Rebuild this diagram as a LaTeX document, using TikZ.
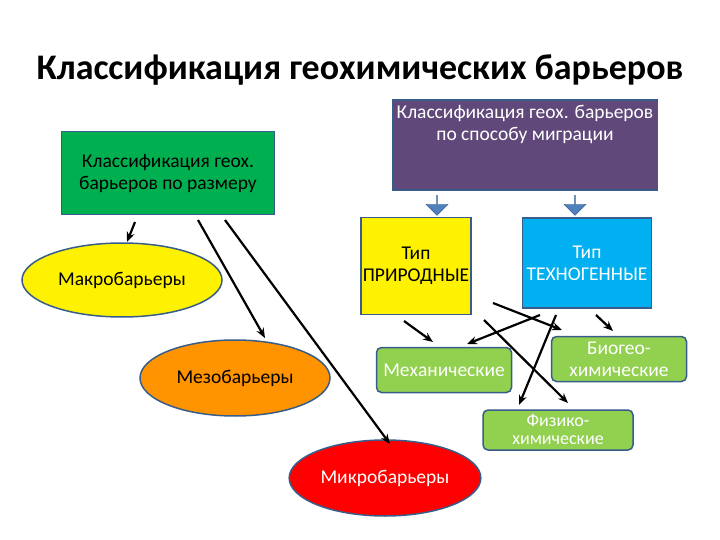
\documentclass[tikz,border=0pt]{standalone}
\usepackage{fontspec}
\setmainfont{Carlito}
\usetikzlibrary{shapes.geometric,shapes.arrows,arrows.meta}
\definecolor{grn}{RGB}{0,176,80}
\definecolor{purp}{RGB}{96,73,122}
\definecolor{skyb}{RGB}{0,176,240}
\definecolor{lgrn}{RGB}{146,208,80}
\definecolor{edge}{RGB}{56,93,138}
\definecolor{arrblue}{RGB}{79,129,189}
\begin{document}
\begin{tikzpicture}[x=1pt,y=-1pt,
  box/.style={draw=edge,line width=1.5pt,align=center,font=\fontsize{19.5}{22}\selectfont,inner sep=2pt},
  rbox/.style={box,rounded corners=5pt,fill=lgrn,text=white},
  ell/.style={ellipse,draw=edge,line width=1.5pt,font=\fontsize{19.5}{22}\selectfont},
  arr/.style={-{Stealth[length=10pt,width=8pt]},line width=2.2pt},
  big/.style={single arrow,fill=arrblue,draw=edge,shape border rotate=270,minimum height=20pt,minimum width=22pt,single arrow head extend=4pt,inner sep=0pt}]
\useasboundingbox (0,0) rectangle (720,540);
\node[font=\bfseries\fontsize{36}{40}\selectfont] (title) at (360,70) {Классификация геохимических барьеров};
\node[box,fill=grn,minimum width=213pt,minimum height=83pt] (size) at (168,173) {Классификация геох.\\барьеров по размеру};
\node[box,fill=purp,text=white,minimum width=265pt,minimum height=90pt] (mig) at (525,145) {Классификация геох. барьеров\\по способу миграции\\[22pt]};
\node[box,fill=yellow,minimum width=108pt,minimum height=97pt] (nat) at (416,266) {Тип\\ПРИРОДНЫЕ};
\node[box,fill=skyb,text=white,minimum width=129pt,minimum height=90pt] (tech) at (587,263) {Тип\\ТЕХНОГЕННЫЕ};
\node[big] (a1) at (437,205) {};
\node[big] (a2) at (575,205) {};
\node[ell,fill=yellow,minimum width=200pt,minimum height=74pt] (macro) at (122,280) {Макробарьеры};
\node[ell,fill=orange!85!yellow,minimum width=190pt,minimum height=76pt] (mezo) at (235,378) {Мезобарьеры};
\node[ell,fill=red,text=white,minimum width=184pt,minimum height=76pt] (micro) at (385,478) {Микробарьеры};
\node[rbox,minimum width=135pt,minimum height=45pt] (mech) at (444,370) {Механические};
\node[rbox,minimum width=135pt,minimum height=45pt] (bio) at (619,359) {Биогео-\\химические};
\node[rbox,minimum width=150pt,minimum height=40pt,font=\fontsize{18}{18}\selectfont] (phys) at (558,430) {Физико-\\химические};
\coordinate (s1) at (135,222); \coordinate (e1) at (127,242);
\coordinate (s2) at (198,220); \coordinate (e2) at (265,338);
\coordinate (s3) at (225,220); \coordinate (e3) at (390,444);
\draw[arr] (s1) -- (e1);
\draw[arr] (s2) -- (e2);
\draw[arr] (s3) -- (e3);
\coordinate (n1) at (404,321); \coordinate (m1) at (433,342);
\coordinate (n2) at (493,303); \coordinate (b2) at (562,330);
\coordinate (n3) at (484,320); \coordinate (p3) at (568,403);
\coordinate (t4) at (540,315); \coordinate (m4) at (467,344);
\coordinate (t5) at (556,315); \coordinate (p5) at (519,405);
\coordinate (t6) at (596,315); \coordinate (b6) at (613,331);
\draw[arr] (n1) -- (m1);
\draw[arr] (n2) -- (b2);
\draw[arr] (n3) -- (p3);
\draw[arr] (t4) -- (m4);
\draw[arr] (t5) -- (p5);
\draw[arr] (t6) -- (b6);
\end{tikzpicture}
\end{document}
